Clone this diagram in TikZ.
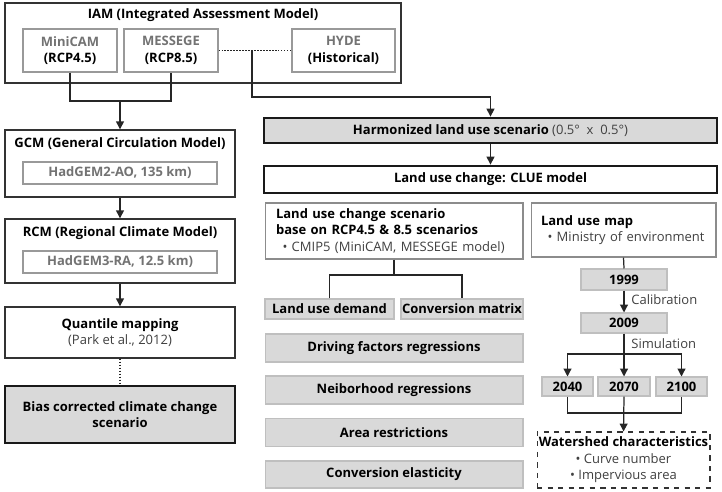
\documentclass[tikz,border=0pt]{standalone}
\usepackage{fontspec}
\setmainfont{Open Sans}
\usetikzlibrary{arrows.meta}

\tikzset{
  box/.style={draw=black!80, line width=0.8pt, fill=white, inner sep=0pt},
  subbox/.style={draw=black!40, line width=0.6pt, fill=white, inner sep=0pt, text=black!55, font=\bfseries, align=center},
  thickbox/.style={draw=black!90, line width=1.6pt, inner sep=0pt, font=\bfseries, align=center},
  graybox/.style={draw=black!25, line width=0.6pt, fill=black!15, inner sep=0pt, font=\bfseries, align=center},
  title/.style={font=\bfseries, inner sep=0pt},
  link/.style={line width=0.7pt, draw=black!85},
  arr/.style={link, -{Triangle[length=4.5pt,width=4.5pt]}},
}

\begin{document}
\begin{tikzpicture}[x=0.02cm, y=-0.02cm]
                    \useasboundingbox (0,0) rectangle (722,491);
                    {\fontsize{7.4}{9.4}\selectfont

                    % Drawing box iam
                    \node (iam) at (203,43) [box, minimum width=7.92cm, minimum height=1.6cm] {};%
                    \node (iamtitle) at (203,15) [title] {IAM (Integrated Assessment Model)};%
                    \node (minicam) at (70,50.5) [subbox, minimum width=1.88cm, minimum height=0.86cm] {MiniCAM\\\textcolor{black}{(RCP4.5)}};%
                    \node (messege) at (171,50.5) [subbox, minimum width=1.88cm, minimum height=0.86cm] {MESSEGE\\\textcolor{black}{(RCP8.5)}};%
                    \node (hyde) at (343.5,50.5) [subbox, minimum width=2.06cm, minimum height=0.86cm] {HYDE\\\textcolor{black}{(Historical)}};%

                    % Drawing box gcm
                    \node (gcm) at (120,163.5) [box, minimum width=4.6cm, minimum height=1.34cm] {};%
                    \node (gcmtitle) at (120,144) [title] {GCM (General Circulation Model)};%
                    \node (gcminner) at (120,173) [subbox, minimum width=3.88cm, minimum height=0.44cm] {HadGEM2-AO, 135 km)};%

                    % Drawing box rcm
                    \node (rcm) at (120,251) [box, minimum width=4.6cm, minimum height=1.28cm] {};%
                    \node (rcmtitle) at (120,233) [title] {RCM (Regional Climate Model)};%
                    \node (rcminner) at (120,262) [subbox, minimum width=3.88cm, minimum height=0.44cm] {HadGEM3-RA, 12.5 km)};%

                    % Drawing box quantile
                    \node (quantile) at (120,332.5) [box, minimum width=4.6cm, minimum height=1.02cm, align=center] {\textbf{Quantile mapping}\\\textcolor{black!75}{(Park et al., 2012)}};%

                    % Drawing box bias
                    \node (bias) at (120,414.5) [thickbox, fill=black!15, minimum width=4.6cm, minimum height=1.14cm] {Bias corrected climate change\\scenario};%

                    % Drawing box harm
                    \node (harm) at (490.5,130.5) [thickbox, fill=black!15, minimum width=9.06cm, minimum height=0.5cm] {Harmonized land use scenario \mdseries\textcolor{black!75}{(0.5°\ \ x\ \ 0.5°)}};%

                    % Drawing box clue
                    \node (clue) at (490.5,179.5) [thickbox, fill=white, minimum width=9.06cm, minimum height=0.54cm] {Land use change: CLUE model};%

                    % Drawing box lucs
                    \node (lucs) at (394,231) [box, draw=black!45, line width=0.6pt, minimum width=5.16cm, minimum height=1.12cm, text width=4.72cm, align=left] {\textbf{Land use change scenario}\\\textbf{base on RCP4.5 \& 8.5 scenarios}\\\hspace{0.5em}\textcolor{black!75}{• CMIP5 (MiniCAM, MESSEGE model)}};%

                    % Drawing gray boxes
                    \node (demand) at (329.5,309) [graybox, minimum width=2.58cm, minimum height=0.4cm] {Land use demand};%
                    \node (matrix) at (462,309) [graybox, minimum width=2.44cm, minimum height=0.4cm] {Conversion matrix};%
                    \node (driving) at (394,348) [graybox, minimum width=5.16cm, minimum height=0.56cm] {Driving factors regressions};%
                    \node (neighbor) at (394,390) [graybox, minimum width=5.16cm, minimum height=0.56cm] {Neiborhood regressions};%
                    \node (area) at (394,432.5) [graybox, minimum width=5.16cm, minimum height=0.56cm] {Area restrictions};%
                    \node (elast) at (394,474.5) [graybox, minimum width=5.16cm, minimum height=0.54cm] {Conversion elasticity};%

                    % Drawing box lumap
                    \node (lumap) at (623.5,230) [box, draw=black!45, line width=0.6pt, minimum width=3.7cm, minimum height=1.08cm, text width=3.3cm, align=left] {\textbf{Land use map}\\\hspace{0.5em}\textcolor{black!75}{• Ministry of environment}};%

                    % Drawing year boxes
                    \node (y1999) at (624,279.5) [graybox, minimum width=1.72cm, minimum height=0.42cm] {1999};%
                    \node (y2009) at (624,323) [graybox, minimum width=1.72cm, minimum height=0.4cm] {2009};%
                    \node (y2040) at (567.5,386.5) [graybox, minimum width=1.02cm, minimum height=0.38cm] {2040};%
                    \node (y2070) at (624,386.5) [graybox, minimum width=1.04cm, minimum height=0.38cm] {2070};%
                    \node (y2100) at (681.5,386.5) [graybox, minimum width=1.02cm, minimum height=0.38cm] {2100};%

                    % Drawing box wshed
                    \node (wshed) at (623.5,460) [box, dashed, line width=0.6pt, minimum width=3.46cm, minimum height=1.12cm, align=center] {\textbf{Watershed characteristics}\\\textcolor{black!75}{• Curve number}\\\textcolor{black!75}{• Impervious area}};%

                    % Drawing labels
                    \node (calib) at (631,300) [anchor=west, inner sep=0pt, text=black!75] {Calibration};%
                    \node (simul) at (631,344) [anchor=west, inner sep=0pt, text=black!75] {Simulation};%

                    % Drawing junctions
                    \coordinate (hubA) at (120,101);%
                    \coordinate (hubB) at (252,50.5);%
                    \coordinate (bendB) at (252,97);%
                    \coordinate (splitA) at (394,275);%
                    \coordinate (splitB) at (624,354);%
                    \coordinate (joinC) at (624,413);%

                    % Drawing links iam
                    \draw [link] (minicam.south) |- (hubA) -| (messege.south);%
                    \draw [arr] (hubA) -- (gcm.north);%
                    \draw [link, densely dotted] (messege.east) -- (hyde.west);%
                    \draw [arr] (hubB) -- (bendB) -| (harm.north);%

                    % Drawing links climate
                    \draw [arr] (gcm.south) -- (rcm.north);%
                    \draw [arr] (rcm.south) -- (quantile.north);%
                    \draw [link, densely dotted] (quantile.south) -- (bias.north);%

                    % Drawing links land use
                    \draw [arr] (harm.south) -- (clue.north);%
                    \draw [link] (lucs.south) -- (splitA);%
                    \draw [link] (demand.north) |- (splitA) -| (matrix.north);%

                    % Drawing links map
                    \draw [link] (lumap.south) -- (y1999.north);%
                    \draw [arr] (y1999.south) -- (y2009.north);%
                    \draw [arr] (y2009.south) -- (y2070.north);%
                    \draw [arr] (splitB) -| (y2040.north);%
                    \draw [arr] (splitB) -| (y2100.north);%
                    \draw [link] (y2040.south) |- (joinC) -| (y2100.south);%
                    \draw [arr] (y2070.south) -- (wshed.north);%
                    }
\end{tikzpicture}
\end{document}
